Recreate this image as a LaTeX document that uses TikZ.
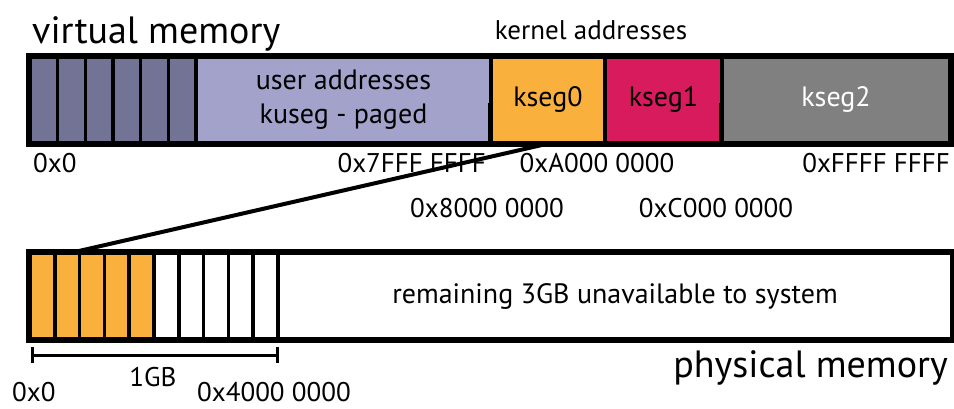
\documentclass[tikz,border=0pt]{standalone}
\usepackage{fontspec}
\setmainfont{PT Sans}
\definecolor{vdark}{HTML}{737396}
\definecolor{vlight}{HTML}{A2A2CB}
\definecolor{korange}{HTML}{F9B03C}
\definecolor{kred}{HTML}{D81B5C}
\definecolor{kgray}{HTML}{808080}
\begin{document}
\begin{tikzpicture}[x=1pt,y=-1pt,
  seg/.style={draw=black, line width=3.5pt, inner sep=0pt, minimum height=86pt, font=\fontsize{28}{34}\selectfont, align=center},
  lbl/.style={font=\fontsize{27}{30}\selectfont, inner sep=0pt},
  big/.style={font=\fontsize{38}{42}\selectfont, inner sep=0pt},
  frame/.style={draw=black, line width=5pt},
  tick/.style={draw=black, line width=3.5pt},
  maplink/.style={draw=black, line width=4pt}]
\useasboundingbox (0,0) rectangle (954,409);
% virtual memory row
\foreach \i in {1,...,6}
  \node[seg, fill=vdark, minimum width=27.67pt] (v\i) at ({30+27.67*(\i-0.5)},100) {};
\node[seg, fill=vlight, minimum width=295pt] (user) at (343.5,100) {user addresses\\kuseg - paged};
\node[seg, fill=korange, minimum width=114pt] (k0) at (548,100) {kseg0};
\node[seg, fill=kred, minimum width=117pt] (k1) at (663.5,100) {kseg1};
\node[seg, fill=kgray, minimum width=228pt, text=white] (k2) at (836,100) {kseg2};
\draw[frame] (v1.north west) rectangle (k2.south east);
% physical memory row
\foreach \i in {1,...,5}
  \node[seg, fill=korange, minimum width=24.8pt] (p\i) at ({30+24.8*(\i-0.5)},296) {};
\foreach \i in {6,...,10}
  \node[seg, fill=white, minimum width=24.8pt] (p\i) at ({30+24.8*(\i-0.5)},296) {};
\node[seg, fill=white, minimum width=674pt] (rest) at (615,296) {remaining 3GB unavailable to system};
\draw[frame] (p1.north west) rectangle (rest.south east);
% titles
\node[big, anchor=base west] (vt) at (32,44) {virtual memory};
\node[lbl, anchor=base] (kt) at (591,40) {kernel addresses};
\node[big, anchor=base east] (pt) at (948,377) {physical memory};
% ticks
\coordinate (t1) at ([yshift=42pt]k0.south west);
\coordinate (t2) at ([yshift=42pt]k2.south west);
\draw[tick] (k0.south west) -- (t1);
\draw[tick] (k2.south west) -- (t2);
% virtual labels
\node[lbl, anchor=base west] (a0) at (33,173) {0x0};
\node[lbl, anchor=base east] (a7) at (486,173) {0x7FFF FFFF};
\node[lbl, anchor=base] (aA) at (597,173) {0xA000 0000};
\node[lbl, anchor=base east] (aF) at (950,173) {0xFFFF FFFF};
\node[lbl, anchor=base] (a8) at (487,218) {0x8000 0000};
\node[lbl, anchor=base] (aC) at (716,218) {0xC000 0000};
% mapping line
\draw[maplink] ([xshift=-5pt]k0.south) -- (p3.north west);
% 1GB bracket
\coordinate (g1) at (32,355);
\coordinate (g2) at (277,355);
\draw[tick, line width=3pt] (g1) -- (g2);
\draw[tick, line width=3pt] ([yshift=-8pt]g1) -- ([yshift=8pt]g1);
\draw[tick, line width=3pt] ([yshift=-8pt]g2) -- ([yshift=8pt]g2);
\node[lbl, anchor=base] (gb) at (153,386) {1GB};
\node[lbl, anchor=base west] (b0) at (12,401) {0x0};
\node[lbl, anchor=base west] (b4) at (197,401) {0x4000 0000};
\end{tikzpicture}
\end{document}
